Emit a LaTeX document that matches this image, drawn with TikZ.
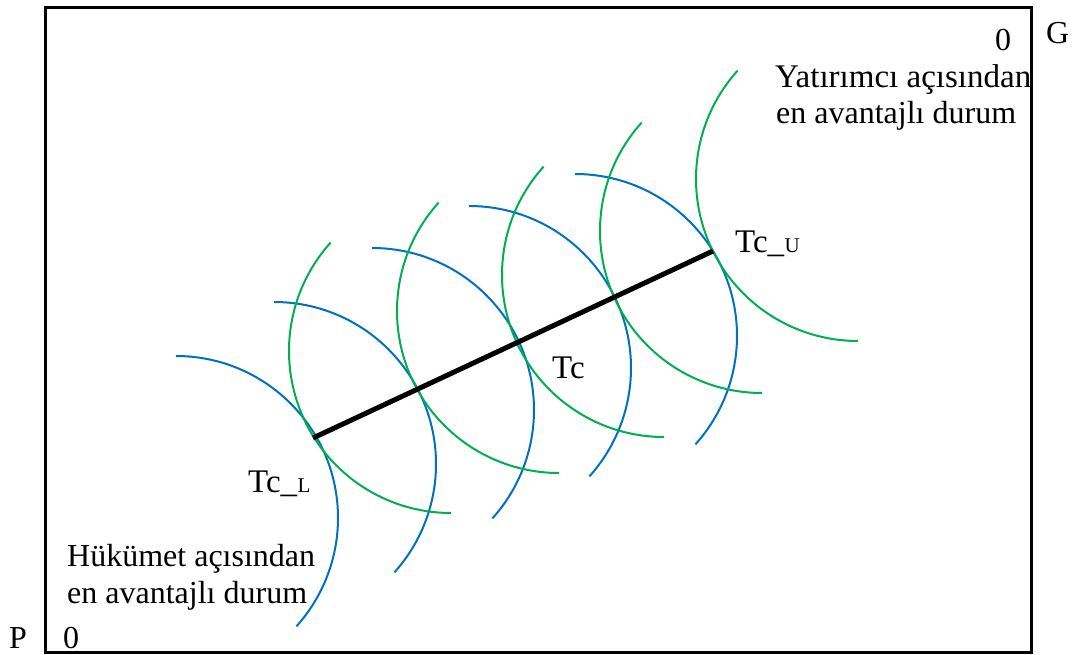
\documentclass[tikz,border=0pt]{standalone}
\usepackage{fontspec}
\setmainfont{Liberation Serif}
\definecolor{cblue}{HTML}{0070C0}
\definecolor{cgreen}{HTML}{00B050}
\begin{document}
\begin{tikzpicture}[x=1pt,y=1pt,
  bluearc/.style={cblue, line width=2pt},
  greenarc/.style={cgreen, line width=2pt},
  frame/.style={line width=3pt},
  contract/.style={line width=5pt},
  lbl/.style={inner sep=0pt, anchor=base west, font=\fontsize{32}{37}\selectfont},
  lblbig/.style={inner sep=0pt, anchor=base west, font=\fontsize{33}{37}\selectfont},
  small/.style={inner sep=0pt, anchor=base west, font=\fontsize{32}{36}\selectfont},
  sub/.style={inner sep=0pt, anchor=base west, font=\fontsize{21}{24}\selectfont}]
\useasboundingbox (0,0) rectangle (1074,-655);
\draw[frame] (45,-8) rectangle (1031,-652);
% blue indifference curves (centres)
\foreach \cx/\cy in {176/518, 274/464, 372/410, 469/368, 575/336}
  \draw[bluearc] (\cx,-\cy) ++(90:162) arc[start angle=90, end angle=-42, radius=162];
% green indifference curves (centres)
\foreach \cx/\cy in {451/351, 559/311, 664/275, 762/231, 858/179}
  \draw[greenarc] (\cx,-\cy) ++(138:162) arc[start angle=138, end angle=270, radius=162];
% contract curve
\coordinate (TL) at (313,-438);
\coordinate (TU) at (713,-251);
\draw[contract] (TL) -- (TU);
% labels
\node[small] (g0) at (995,-51) {0};
\node[small] (G) at (1046,-44) {G};
\node[small] (P) at (9,-648) {P};
\node[small] (p0) at (63,-648) {0};
\node[lblbig] (yat1) at (775,-88) {Yatırımcı açısından};
\node[lbl] (yat2) at (776,-124) {en avantajlı durum};
\node[lbl] (huk1) at (67,-566) {Hükümet açısından};
\node[lbl] (huk2) at (67,-603) {en avantajlı durum};
\node[lblbig] (tcl) at (248,-492) {Tc\_};
\node[sub] (tcls) at (tcl.base east) {L};
\node[lblbig] (tc) at (552,-378) {Tc};
\node[lblbig] (tcu) at (735,-253) {Tc\_};
\node[sub] (tcus) at (tcu.base east) {U};
\end{tikzpicture}
\end{document}
